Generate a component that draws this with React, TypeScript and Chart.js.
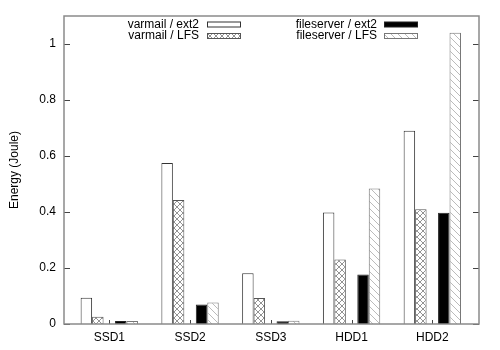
import React, { useEffect, useRef } from "react";
import { Chart, registerables } from "chart.js";

Chart.register(...registerables);

const categories = ["SSD1", "SSD2", "SSD3", "HDD1", "HDD2"];
const seriesNames = ["varmail / ext2", "varmail / LFS", "fileserver / ext2", "fileserver / LFS"];
const varmailExt2 = [0.094, 0.575, 0.181, 0.398, 0.69];
const varmailLFS = [0.026, 0.443, 0.093, 0.23, 0.41];
const fileserverExt2 = [0.011, 0.07, 0.01, 0.177, 0.397];
const fileserverLFS = [0.011, 0.077, 0.012, 0.484, 1.04];
const yTicks = [0, 0.2, 0.4, 0.6, 0.8, 1];
const yTickLabels = ["0", "0.2", "0.4", "0.6", "0.8", "1"];
const yTitle = "Energy (Joule)";

function makeCross(): CanvasPattern | string {
  const t = document.createElement("canvas");
  t.width = 6;
  t.height = 6;
  const g = t.getContext("2d");
  if (!g) return "#ccc";
  g.fillStyle = "#fff";
  g.fillRect(0, 0, 6, 6);
  g.strokeStyle = "#777";
  g.lineWidth = 0.8;
  g.beginPath();
  g.moveTo(0, 0);
  g.lineTo(6, 6);
  g.moveTo(6, 0);
  g.lineTo(0, 6);
  g.stroke();
  return g.createPattern(t, "repeat") || "#ccc";
}

function makeDiag(): CanvasPattern | string {
  const t = document.createElement("canvas");
  t.width = 7;
  t.height = 7;
  const g = t.getContext("2d");
  if (!g) return "#eee";
  g.fillStyle = "#fff";
  g.fillRect(0, 0, 7, 7);
  g.strokeStyle = "#aaa";
  g.lineWidth = 0.8;
  g.beginPath();
  g.moveTo(-1, -1);
  g.lineTo(8, 8);
  g.stroke();
  return g.createPattern(t, "repeat") || "#eee";
}

export default function App() {
  const ref = useRef<HTMLCanvasElement>(null);

  useEffect(() => {
    const canvas = ref.current;
    if (!canvas) return;
    const cross = makeCross();
    const diag = makeDiag();
    const toXY = (arr: number[]) => arr.map((v, i) => ({ x: i, y: v }));
    const fills: any[] = ["#fff", cross, "#000", diag];
    const borders = ["#333", "#555", "#222", "#777"];

    const datasets: any[] = [
      { label: seriesNames[0], data: toXY(varmailExt2), backgroundColor: fills[0], borderColor: borders[0], borderWidth: 1 },
      { label: seriesNames[1], data: toXY(varmailLFS), backgroundColor: fills[1], borderColor: borders[1], borderWidth: 1 },
      { label: "", data: categories.map((_, i) => ({ x: i, y: null })), backgroundColor: "rgba(0,0,0,0)", borderWidth: 0 },
      { label: seriesNames[2], data: toXY(fileserverExt2), backgroundColor: fills[2], borderColor: borders[2], borderWidth: 1 },
      { label: seriesNames[3], data: toXY(fileserverLFS), backgroundColor: fills[3], borderColor: borders[3], borderWidth: 1 },
    ];

    const framePlugin = {
      id: "frame",
      afterDatasetsDraw(chart: any) {
        const { ctx, chartArea } = chart;
        const { left, right, top, bottom } = chartArea;
        const y = chart.scales.y;
        const x = chart.scales.x;
        ctx.save();
        ctx.strokeStyle = "#444";
        ctx.lineWidth = 1;
        ctx.beginPath();
        yTicks.forEach((v) => {
          const py = Math.round(y.getPixelForValue(v)) + 0.5;
          ctx.moveTo(left, py);
          ctx.lineTo(left + 6, py);
          ctx.moveTo(right, py);
          ctx.lineTo(right - 6, py);
        });
        categories.forEach((_, i) => {
          const px = Math.round(x.getPixelForValue(i)) + 0.5;
          ctx.moveTo(px, bottom);
          ctx.lineTo(px, bottom - 4);
        });
        ctx.stroke();
        ctx.strokeStyle = "#8a8a8a";
        ctx.lineWidth = 1.5;
        ctx.strokeRect(left, top, right - left, bottom - top);

        // legend
        ctx.font = "12px 'Liberation Sans', Arial, sans-serif";
        ctx.textAlign = "right";
        ctx.textBaseline = "middle";
        const cols = [
          { textRight: 199, boxLeft: 207, boxRight: 241 },
          { textRight: 377, boxLeft: 384, boxRight: 418 },
        ];
        const rows = [24.5, 36];
        seriesNames.forEach((name, i) => {
          const col = cols[Math.floor(i / 2)];
          const ry = rows[i % 2];
          ctx.fillStyle = "#000";
          ctx.fillText(name, col.textRight, ry);
          ctx.fillStyle = fills[i];
          ctx.fillRect(col.boxLeft, ry - 2.5, col.boxRight - col.boxLeft, 5);
          ctx.strokeStyle = borders[i];
          ctx.lineWidth = 1;
          ctx.strokeRect(col.boxLeft + 0.5, ry - 2.5, col.boxRight - col.boxLeft - 1, 5);
        });
        ctx.restore();
      },
    };

    const chart = new Chart(canvas, {
      type: "bar",
      data: { datasets },
      options: {
        animation: false,
        responsive: false,
        layout: { padding: { top: 16, right: 21, left: 0, bottom: 0 } },
        datasets: { bar: { categoryPercentage: 0.71, barPercentage: 1, grouped: true } } as any,
        plugins: { legend: { display: false }, tooltip: { enabled: false } },
        scales: {
          x: {
            type: "linear",
            offset: false,
            min: -0.561,
            max: 4.578,
            grid: { display: false, offset: false, drawTicks: false },
            border: { display: false },
            afterBuildTicks: (s: any) => {
              s.ticks = categories.map((_, i) => ({ value: i }));
            },
            afterFit: (s: any) => {
              s.height = 26;
            },
            ticks: {
              autoSkip: false,
              maxRotation: 0,
              padding: 6,
              color: "#000",
              font: { size: 12, family: "'Liberation Sans', Arial, sans-serif" },
              callback: (v: any) => categories[v] ?? "",
            },
          },
          y: {
            type: "linear",
            min: 0,
            max: 1.1,
            grid: { display: false, drawTicks: false },
            border: { display: false },
            afterBuildTicks: (s: any) => {
              s.ticks = yTicks.map((v) => ({ value: v }));
            },
            afterFit: (s: any) => {
              s.width = 64;
            },
            title: {
              display: true,
              text: yTitle,
              color: "#000",
              padding: { top: 7, bottom: 4 },
              font: { size: 12, family: "'Liberation Sans', Arial, sans-serif" },
            },
            ticks: {
              padding: 8,
              color: "#000",
              font: { size: 12, family: "'Liberation Sans', Arial, sans-serif" },
              callback: (v: any) => {
                const idx = yTicks.indexOf(v);
                return idx >= 0 ? yTickLabels[idx] : "";
              },
            },
          },
        },
      },
      plugins: [framePlugin],
    } as any);

    return () => chart.destroy();
  }, []);

  return (
    <div style={{ position: "fixed", left: 0, top: 0, width: 500, height: 350, background: "#fff" }}>
      <canvas ref={ref} width={500} height={350} style={{ display: "block" }} />
    </div>
  );
}
